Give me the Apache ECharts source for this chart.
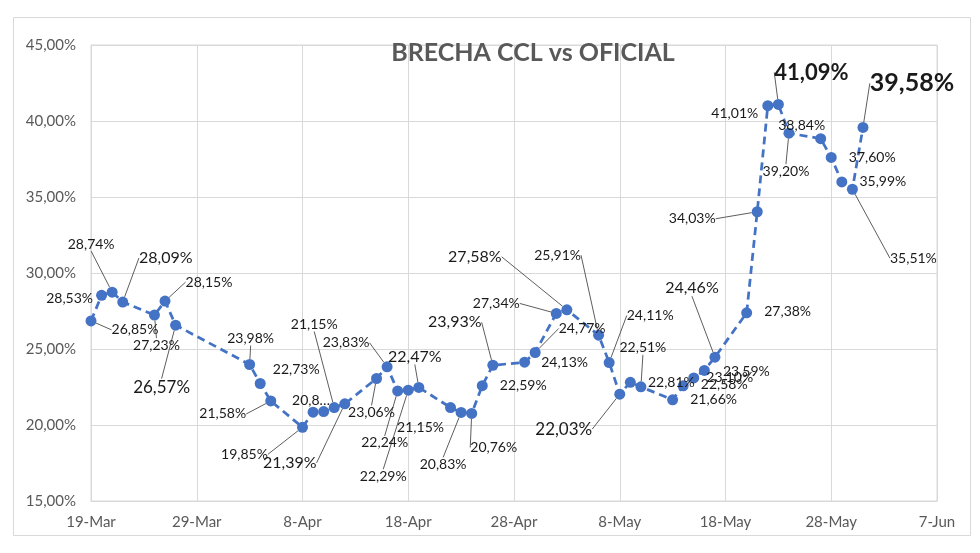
<!DOCTYPE html>
<html>
<head>
<meta charset="utf-8">
<script src="https://cdn.jsdelivr.net/npm/echarts@6/dist/echarts.min.js"></script>
<style>
html,body{margin:0;padding:0;background:#fff;}
#chart{width:980px;height:553px;}
</style>
</head>
<body>
<div id="chart"></div>
<script>
// ---- DATA ----
var chartTitle = 'BRECHA CCL vs OFICIAL';
var startDate = '2024-03-19';
var endDate = '2024-06-07';
var dates = ['2024-03-19','2024-03-20','2024-03-21','2024-03-22','2024-03-25','2024-03-26','2024-03-27',
  '2024-04-03','2024-04-04','2024-04-05','2024-04-08','2024-04-09','2024-04-10','2024-04-11','2024-04-12',
  '2024-04-15','2024-04-16','2024-04-17','2024-04-18','2024-04-19','2024-04-22','2024-04-23','2024-04-24',
  '2024-04-25','2024-04-26','2024-04-29','2024-04-30','2024-05-02','2024-05-03','2024-05-06','2024-05-07',
  '2024-05-08','2024-05-09','2024-05-10','2024-05-13','2024-05-14','2024-05-15','2024-05-16','2024-05-17',
  '2024-05-20','2024-05-21','2024-05-22','2024-05-23','2024-05-24','2024-05-27','2024-05-28','2024-05-29',
  '2024-05-30','2024-05-31'];
var brecha = [26.85,28.53,28.74,28.09,27.23,28.15,26.57,
  23.98,22.73,21.58,19.85,20.84,20.88,21.15,21.39,
  23.06,23.83,22.24,22.29,22.47,21.15,20.83,20.76,
  22.59,23.93,24.13,24.77,27.34,27.58,25.91,24.11,
  22.03,22.81,22.51,21.66,22.58,23.10,23.59,24.46,
  27.38,34.03,41.01,41.09,39.20,38.84,37.60,35.99,
  35.51,39.58];
var yTicks = [15,20,25,30,35,40,45];
var monthNames = ['Jan','Feb','Mar','Apr','May','Jun','Jul','Aug','Sep','Oct','Nov','Dec'];

// ---- LABEL STYLING (offset dx, dy, font size, bold, leader line) ----
var labelCfg = [
 [44,9,14,0,1],[-32,3,14,0,0],[-21,-48,14,0,1],[43,-44,16,0,1],[2,30,14,0,1],[44,-19,14,0,1],[-14,62,17,0,1],
 [1,-26,14,0,1],[36,-14,14,0,0],[-48,13,14,0,1],[-58,27,14,0,1],[-2,-12,14,0,0],null,[-20,-83,14,0,1],[-55,59,16,0,1],
 [-5,34,14,0,1],[-41,-24,14,0,1],[-13,52,14,0,1],[-25,86,14,0,1],[-4,-31,16,0,1],[-30,20,14,0,0],[-18,52,14,0,1],[22,34,14,0,1],
 [41,0,14,0,0],[-38,-43,16,0,1],[40,0,14,0,0],[47,-24,14,0,1],[-60,-10,14,0,1],[-92,-53,16,0,1],[-41,-80,14,0,1],[41,-47,14,0,1],
 [-56,35,17,0,1],[41,0,14,0,0],[2,-39,14,0,1],[41,0,14,0,0],[41,-1,14,0,0],[36,0,14,0,0],[42,1,14,0,0],[-23,-69,16,0,1],
 [41,-1,14,0,0],[-65,7,14,0,1],[-33,8,14,0,0],[33,-32,22,1,1],[-3,38,14,0,1],[-19,-13,14,0,0],[41,0,14,0,0],[41,0,14,0,0],
 [61,69,14,0,1],[49,-44,25,1,1]
];
var truncatedLabels = {11: '20,8…'};

// ---- HELPERS ----
function dayIndex(s){
  var p = s.split('-'), q = startDate.split('-');
  return Math.round((Date.UTC(+p[0],p[1]-1,+p[2]) - Date.UTC(+q[0],q[1]-1,+q[2]))/86400000);
}
function fmtPct(v){ return v.toFixed(2).replace('.', ',') + '%'; }
function fmtDay(d){
  var q = startDate.split('-');
  var t = new Date(Date.UTC(+q[0],q[1]-1,+q[2]) + d*86400000);
  return t.getUTCDate() + '-' + monthNames[t.getUTCMonth()];
}

var FONT = 'Lato';
var seriesData = dates.map(function(d,i){
  var c = labelCfg[i];
  var item = { value: [dayIndex(d), brecha[i]] };
  if (!c) {
    item.label = { show: false };
    item.labelLine = { show: false };
  } else {
    item.label = { show: true, fontSize: c[2], fontWeight: c[3] ? 'bold' : 'normal',
      formatter: truncatedLabels[i] ? truncatedLabels[i] : fmtPct(brecha[i]) };
    item.labelLine = { show: !!c[4] };
  }
  return item;
});

var chart = echarts.init(document.getElementById('chart'), null, {renderer:'canvas'});
chart.setOption({
  animation: false,
  backgroundColor: '#ffffff',
  textStyle: { fontFamily: FONT },
  title: {
    text: chartTitle, left: 528, top: 35, textAlign: 'center',
    textStyle: { fontFamily: FONT, fontSize: 25, fontWeight: 'bold', color: '#595959' }
  },
  graphic: [{
    type: 'rect', left: 11, top: 15, silent: true,
    shape: { width: 957, height: 518 },
    style: { fill: 'none', stroke: '#d9d9d9', lineWidth: 1 }
  }],
  grid: { left: 91, right: 43, top: 45, bottom: 52, show: true, borderColor: '#d9d9d9', borderWidth: 1 },
  xAxis: {
    type: 'value', min: 0, max: dayIndex(endDate), interval: 10,
    axisLine: { show: true, lineStyle: { color: '#d9d9d9' } },
    axisTick: { show: false },
    splitLine: { show: true, lineStyle: { color: '#d9d9d9' } },
    axisLabel: { color: '#595959', fontSize: 15, fontFamily: FONT, margin: 14, formatter: fmtDay }
  },
  yAxis: {
    type: 'value', min: yTicks[0], max: yTicks[yTicks.length-1], interval: 5,
    axisLine: { show: true, lineStyle: { color: '#d9d9d9' } },
    axisTick: { show: false },
    splitLine: { show: true, lineStyle: { color: '#d9d9d9' } },
    axisLabel: { color: '#595959', fontSize: 15, fontFamily: FONT, margin: 15, formatter: function(v){ return fmtPct(v); } }
  },
  series: [{
    type: 'line',
    data: seriesData,
    showAllSymbol: true,
    symbol: 'circle',
    symbolSize: 11,
    itemStyle: { color: '#4472C4' },
    lineStyle: { color: '#4472C4', width: 2.75, type: [8, 5] },
    label: { show: true, position: 'inside', color: '#1a1a1a', fontFamily: FONT, fontSize: 14 },
    labelLine: { show: true, lineStyle: { color: '#333333', width: 0.8 } },
    labelLayout: function(p){
      var c = labelCfg[p.dataIndex];
      if (!c) return {};
      return { dx: c[0], dy: c[1] };
    },
    z: 3
  }]
});
</script>
</body>
</html>
